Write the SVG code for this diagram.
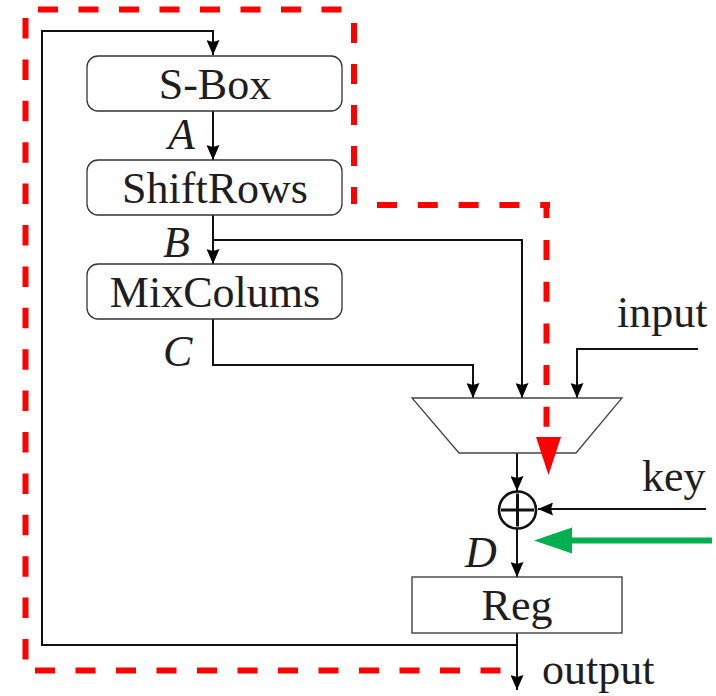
<svg xmlns="http://www.w3.org/2000/svg" width="716" height="696" viewBox="0 0 716 696">
  <style>
    .lbl { font-family: "Liberation Serif", "Times New Roman", serif; font-size: 44px; fill: #1e1e1e; }
    .it { font-style: italic; }
    .box { fill: #fff; stroke: #333; stroke-width: 1.3; }
    .wire { fill: none; stroke: #111; stroke-width: 2; }
    .red { fill: none; stroke: #ff0000; stroke-width: 6; }
  </style>
  <defs>
    <marker id="arrow" viewBox="0 0 15 13" refX="15" refY="6.5" markerWidth="15" markerHeight="13" markerUnits="userSpaceOnUse" orient="auto">
      <path d="M0,0 L15,6.5 L0,13 L2,6.5 Z" fill="#000"/>
    </marker>
  </defs>

  <rect width="716" height="696" fill="#fff"/>

  <!-- connectors -->
  <g id="connectors">
    <polyline class="wire" points="517,645 42,645 42,31 213,31 213,55" marker-end="url(#arrow)"/>
    <line class="wire" x1="213" y1="111" x2="213" y2="160" marker-end="url(#arrow)"/>
    <line class="wire" x1="213" y1="215" x2="213" y2="264" marker-end="url(#arrow)"/>
    <polyline class="wire" points="213,240 522,240 522,398" marker-end="url(#arrow)"/>
    <polyline class="wire" points="213,319 213,365 473,365 473,398" marker-end="url(#arrow)"/>
    <polyline class="wire" points="698,349 577,349 577,398" marker-end="url(#arrow)"/>
    <line class="wire" x1="517" y1="453" x2="517" y2="491" marker-end="url(#arrow)"/>
    <line class="wire" x1="706" y1="509" x2="538" y2="509" marker-end="url(#arrow)"/>
    <line class="wire" x1="517" y1="529" x2="517" y2="577" marker-end="url(#arrow)"/>
    <line class="wire" x1="517" y1="633" x2="517" y2="690" marker-end="url(#arrow)"/>
    <!-- key-injection indicator -->
    <line x1="712" y1="540.5" x2="566" y2="540.5" stroke="#00b050" stroke-width="6"/>
    <polygon points="534,540.5 572,527.5 572,553.5" fill="#00b050"/>
  </g>

  <g id="sbox">
    <rect class="box" x="87" y="56" width="255" height="55" rx="11"/>
    <text class="lbl" x="215" y="99" text-anchor="middle">S-Box</text>
  </g>
  <g id="shiftrows">
    <rect class="box" x="87" y="160" width="255" height="55" rx="11"/>
    <text class="lbl" x="215" y="203" text-anchor="middle">ShiftRows</text>
  </g>
  <g id="mixcolumns">
    <rect class="box" x="87" y="264" width="255" height="55" rx="11"/>
    <text class="lbl" x="215" y="307" text-anchor="middle">MixColums</text>
  </g>
  <g id="mux">
    <polygon points="412,398 622,398 576,453 459,453" fill="#fff" stroke="#444" stroke-width="1.3"/>
  </g>
  <g id="xor">
    <circle cx="517.5" cy="510" r="18.5" fill="#fff" stroke="#111" stroke-width="2.6"/>
    <line x1="501" y1="510" x2="534" y2="510" stroke="#111" stroke-width="3"/>
    <line x1="517.5" y1="493.5" x2="517.5" y2="526.5" stroke="#111" stroke-width="3"/>
  </g>
  <g id="reg">
    <rect class="box" x="412" y="577" width="210" height="56"/>
    <text class="lbl" x="517" y="620" text-anchor="middle">Reg</text>
  </g>

  <g id="labels">
    <text class="lbl it" x="168" y="149">A</text>
    <text class="lbl it" x="163" y="257">B</text>
    <text class="lbl it" x="163" y="366">C</text>
    <text class="lbl it" x="465" y="567">D</text>
    <text class="lbl" x="617" y="327">input</text>
    <text class="lbl" x="642" y="491">key</text>
    <text class="lbl" x="542" y="684">output</text>
  </g>

  <!-- critical path highlight (red dashed), drawn on top -->
  <g id="critical-path">
    <line class="red" x1="38" y1="9.5" x2="342" y2="9.5" stroke-dasharray="20 20.5"/>
    <line class="red" x1="354" y1="23" x2="354" y2="204" stroke-dasharray="20 21"/>
    <line class="red" x1="377" y1="205" x2="550" y2="205" stroke-dasharray="20 20.8"/>
    <line class="red" x1="546.5" y1="205" x2="546.5" y2="218" stroke-dasharray="13 100"/>
    <line class="red" x1="546.5" y1="240" x2="546.5" y2="428" stroke-dasharray="20 21.7"/>
    <polygon points="536,437 561,437 548.5,475" fill="#ff0000"/>
    <line class="red" x1="25.5" y1="18" x2="25.5" y2="660" stroke-dasharray="20.5 20.9"/>
    <line class="red" x1="35" y1="670.5" x2="501" y2="670.5" stroke-dasharray="20 20.5"/>
  </g>
</svg>
